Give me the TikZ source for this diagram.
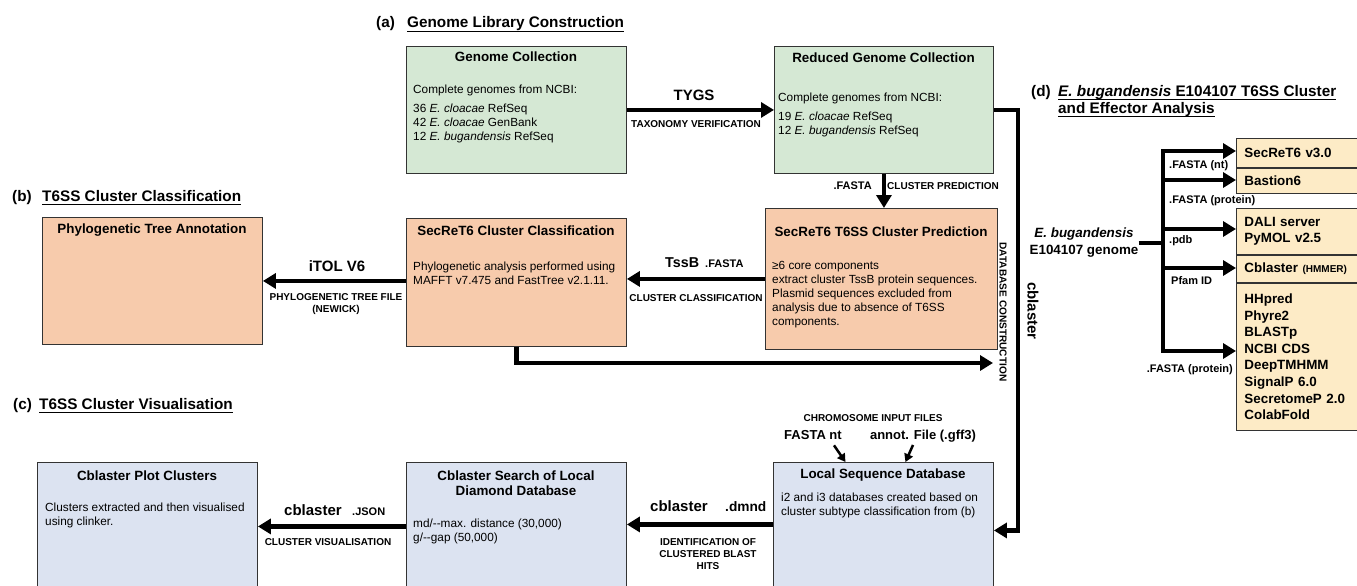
\documentclass[tikz,border=0pt]{standalone}
\usepackage{fontspec}
\setmainfont{Liberation Sans}
\usetikzlibrary{arrows.meta,positioning}
\definecolor{collgreen}{HTML}{D5E8D4}
\definecolor{predorange}{HTML}{F7CBAC}
\definecolor{visblue}{HTML}{DCE3F1}
\definecolor{effyellow}{HTML}{FDEBC6}

\begin{document}
\begin{tikzpicture}[x=1pt, y=-1pt,
  box/.style={draw=black!80, line width=0.9pt, anchor=north west, inner sep=0pt},
  ttl/.style={font=\fontsize{13.4}{15}\selectfont\bfseries, anchor=base, inner sep=0pt, align=center},
  txt/.style={font=\fontsize{11.8}{14}\selectfont, anchor=north west, inner sep=0pt, align=left},
  head/.style={font=\fontsize{15.3}{18}\selectfont\bfseries, anchor=base west, inner sep=0pt},
  tool/.style={font=\fontsize{15}{18}\selectfont\bfseries, anchor=base, inner sep=0pt},
  lbl/.style={font=\fontsize{10}{12}\selectfont\bfseries, anchor=base, inner sep=0pt, align=center},
  ext/.style={font=\fontsize{11}{13}\selectfont\bfseries, anchor=base west, inner sep=0pt},
  flow/.style={line width=4.8pt, -{Triangle[length=13pt,width=15pt]}},
  lil/.style={line width=2.5pt, -{Triangle[length=8pt,width=9pt]}},
  effbox/.style={draw=black!80, line width=0.9pt, fill=effyellow, text width=114pt, inner xsep=8pt, inner ysep=0pt, align=left, font=\fontsize{13.4}{16.6}\selectfont\bfseries}]
\fill[white] (0,0) rectangle (1357,586);
\useasboundingbox (0,0) rectangle (1357,586);

% panel headings
\node[head] (la) at (376,28) {(a)};
\node[head] (ha) at (407,28) {Genome Library Construction};
\node[head] (lb) at (12,201) {(b)};
\node[head] (hb) at (42,201) {T6SS Cluster Classification};
\node[head] (lc) at (13,409) {(c)};
\node[head] (hc) at (39,409) {T6SS Cluster Visualisation};
\node[head] (ld) at (1031,96) {(d)};
\node[head] (hd) at (1058,96) {\textit{E. bugandensis} E104107 T6SS Cluster};
\node[head] (hd2) at (1058,113) {and Effector Analysis};
\foreach \hh in {ha,hb,hc,hd,hd2}
  \draw[line width=1.5pt] ([yshift=-3.5pt]\hh.base west) -- ([yshift=-3.5pt]\hh.base east);

% (a) genome library
\node[box, fill=collgreen, minimum width=220pt, minimum height=127pt] (gc) at (406,46) {};
\node[ttl] (gct) at (516,62) {Genome Collection};
\node[txt] (gcx) at (413,84.4) {Complete genomes from NCBI:\\[5pt]36 \textit{E. cloacae} RefSeq\\42 \textit{E. cloacae} GenBank\\12 \textit{E. bugandensis} RefSeq};
\node[box, fill=collgreen, minimum width=219pt, minimum height=127pt] (rgc) at (774,46) {};
\node[ttl] (rgct) at (883.5,63) {Reduced Genome Collection};
\node[txt] (rgcx) at (778,92.4) {Complete genomes from NCBI:\\[5pt]19 \textit{E. cloacae} RefSeq\\12 \textit{E. bugandensis} RefSeq};
\draw[flow] (gc.east) -- (rgc.west);
\node[tool] (tygs) at (694,100) {TYGS};
\node[lbl] (taxv) at (696,127) {TAXONOMY VERIFICATION};

% (b) cluster classification
\node[box, fill=predorange, minimum width=232pt, minimum height=141pt] (pred) at (765,208) {};
\node[ttl] (predt) at (881,236) {SecReT6 T6SS Cluster Prediction};
\node[txt] (predx) at (772,261.4) {≥6 core components\\extract cluster TssB protein sequences.\\Plasmid sequences excluded from\\analysis due to absence of T6SS\\components.};
\node[box, fill=predorange, minimum width=220pt, minimum height=128pt] (cls) at (406,218) {};
\node[ttl] (clst) at (516,235) {SecReT6 Cluster Classification};
\node[txt] (clsx) at (413,261.4) {Phylogenetic analysis performed using\\MAFFT v7.475 and FastTree v2.1.11.};
\node[box, fill=predorange, minimum width=220pt, minimum height=127pt] (tree) at (42,217) {};
\node[ttl] (treet) at (152,233) {Phylogenetic Tree Annotation};

\draw[flow] (rgc.south) -- (rgc.south |- pred.north);
\node[ext, anchor=base east] (fa1) at (872,189) {.FASTA};
\node[lbl, anchor=base west] (cpred) at (887,189) {CLUSTER PREDICTION};

\draw[flow] (pred.west) -- (pred.west -| cls.east);
\node[tool, anchor=base west, font=\fontsize{14.3}{17}\selectfont\bfseries] (tssb) at (665,267) {TssB};
\node[ext] (fa2) at (705,267) {.FASTA};
\node[lbl] (cclass) at (696,301) {CLUSTER CLASSIFICATION};

\draw[flow] (tree.east -| cls.west) -- (tree.east);
\node[tool] (itol) at (337,271) {iTOL V6};
\node[lbl, anchor=north] (newick) at (336,293.8) {PHYLOGENETIC TREE FILE\\(NEWICK)};

\coordinate (dbc) at (993,363);
\draw[flow] (cls.south) |- (dbc);
\node[font=\fontsize{10.1}{12}\selectfont\bfseries, rotate=-90, inner sep=0pt] (dbtxt) at (1003,312) {DATABASE CONSTRUCTION};

% (c) cluster visualisation
\node[box, fill=visblue, minimum width=220pt, minimum height=140pt] (plot) at (37,462) {};
\node[ttl] (plott) at (147,480) {Cblaster Plot Clusters};
\node[txt] (plotx) at (45,502.4) {Clusters extracted and then visualised\\using clinker.};
\node[box, fill=visblue, minimum width=220pt, minimum height=140pt] (srch) at (406,462) {};
\node[ttl, anchor=north] (srcht) at (516,470.2) {Cblaster Search of Local\\Diamond Database};
\node[txt] (srchx) at (413,518.4) {md/-{}-max. distance (30,000)\\g/-{}-gap (50,000)};
\node[box, fill=visblue, minimum width=220pt, minimum height=136pt] (locdb) at (773,462) {};
\node[ttl] (locdbt) at (883,478) {Local Sequence Database};
\node[txt] (locdbx) at (781,492.4) {i2 and i3 databases created based on\\cluster subtype classification from (b)};

\draw[flow] ([yshift=6pt]locdb.west) -- ([yshift=6pt]locdb.west -| srch.east);
\node[tool, anchor=base west] (cb1) at (650,511) {cblaster};
\node[tool, anchor=base west, font=\fontsize{13.7}{16}\selectfont\bfseries] (dmnd) at (725,511) {.dmnd};
\node[lbl, anchor=north, font=\fontsize{10}{11.7}\selectfont\bfseries] (ident) at (708,538.8) {IDENTIFICATION OF\\CLUSTERED BLAST\\HITS};
\draw[flow] ([yshift=6pt]srch.west) -- ([yshift=6pt]srch.west -| plot.east);
\node[tool, anchor=base west] (cb2) at (284,515) {cblaster};
\node[ext] (json) at (352,515) {.JSON};
\node[lbl] (cvis) at (328,545) {CLUSTER VISUALISATION};

\node[lbl] (chr) at (873,421) {CHROMOSOME INPUT FILES};
\node[font=\fontsize{13}{15}\selectfont\bfseries, anchor=base, inner sep=0pt] (fna) at (813,439) {FASTA nt};
\node[font=\fontsize{13}{15}\selectfont\bfseries, anchor=base, inner sep=0pt] (gff) at (923,439) {annot. File (.gff3)};
\draw[lil] ([xshift=21pt,yshift=-6pt]fna.south) -- ([xshift=-38pt]locdb.north);
\draw[lil] ([xshift=-10pt,yshift=-3pt]gff.south) -- ([xshift=22pt]locdb.north);

\draw[flow] (rgc.east) -- ++(24,0) |- (locdb.east);
\node[tool, rotate=-90, anchor=center] (cb3) at (1033,311) {cblaster};

% (d) effector analysis
\node[effbox, anchor=north west, minimum height=29pt] (e1) at (1236,138) {SecReT6 v3.0};
\node[effbox, minimum height=25pt, below=0pt of e1] (e2) {Bastion6};
\node[effbox, anchor=north west, minimum height=46pt] (e3) at (1236,208) {DALI server\\PyMOL v2.5};
\node[effbox, minimum height=27pt, below=0pt of e3] (e4) {Cblaster {\fontsize{10}{12}\selectfont (HMMER)}};
\node[effbox, minimum height=147pt, below=0pt of e4] (e5) {HHpred\\Phyre2\\BLASTp\\NCBI CDS\\DeepTMHMM\\SignalP 6.0\\SecretomeP 2.0\\ColabFold};

\node[font=\fontsize{13.4}{17}\selectfont\bfseries, align=center, inner sep=0pt] (gen) at (1084,243) {\textit{E. bugandensis}\\E104107 genome};
\coordinate (tk0) at (1163,243);
\coordinate (tk1) at (1163,151);
\coordinate (tk5) at (1163,351);
\draw[line width=4.8pt] (gen.east |- tk0) -- (tk0);
\draw[line width=4.8pt, line cap=rect] (tk1) -- (tk5);
\foreach \yy/\tgt in {151/e1,180/e2,229/e3,268/e4,351/e5} {
  \coordinate (br) at (1163,\yy);
  \draw[flow] (br) -- (br -| \tgt.west);
}
\node[ext] (fnt) at (1169,168) {.FASTA (nt)};
\node[ext] (fpr) at (1169,203) {.FASTA (protein)};
\node[ext] (pdb) at (1169,243) {.pdb};
\node[ext] (pfam) at (1171,284) {Pfam ID};
\node[ext, anchor=base east] (fpr2) at (1233,372) {.FASTA (protein)};
\end{tikzpicture}
\end{document}
